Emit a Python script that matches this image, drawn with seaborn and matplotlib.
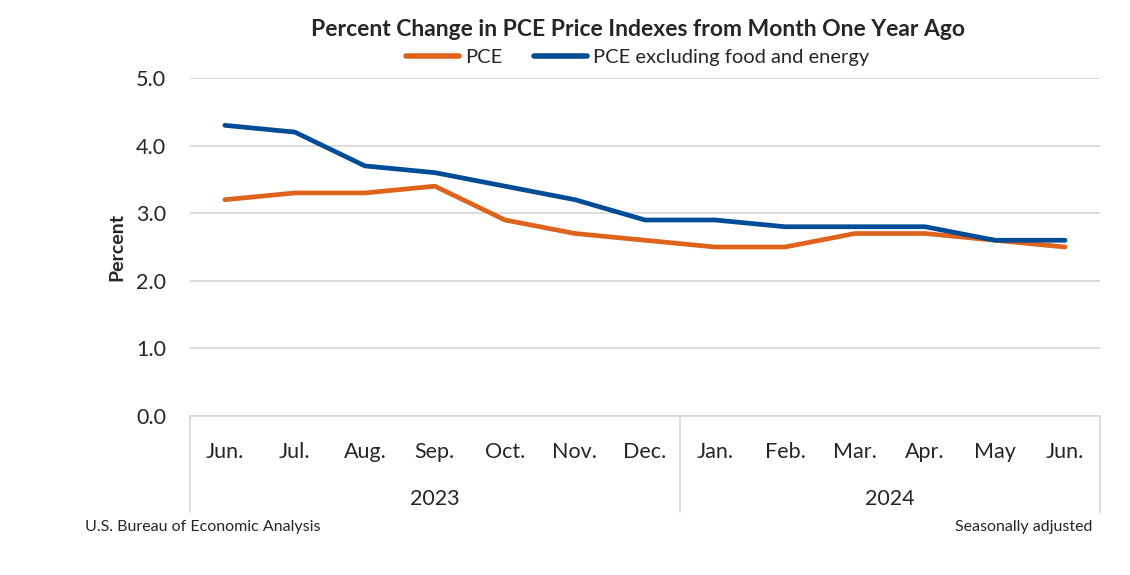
import matplotlib
matplotlib.use("Agg")
import matplotlib.pyplot as plt
import seaborn as sns
import pandas as pd
import numpy as np

months = ["Jun.", "Jul.", "Aug.", "Sep.", "Oct.", "Nov.", "Dec.",
          "Jan.", "Feb.", "Mar.", "Apr.", "May", "Jun."]
years = ["2023", "2024"]
year_counts = [7, 6]
pce = [3.2, 3.3, 3.3, 3.4, 2.9, 2.7, 2.6, 2.5, 2.5, 2.7, 2.7, 2.6, 2.5]
core = [4.3, 4.2, 3.7, 3.6, 3.4, 3.2, 2.9, 2.9, 2.8, 2.8, 2.8, 2.6, 2.6]
series_names = ["PCE", "PCE excluding food and energy"]
yticks = [0.0, 1.0, 2.0, 3.0, 4.0, 5.0]

sns.set_theme(style="white")
FONT = ["Lato", "DejaVu Sans"]
plt.rcParams["font.family"] = FONT

df = pd.DataFrame({
    "pos": list(range(len(months))) * 2,
    "value": pce + core,
    "series": [series_names[0]] * len(pce) + [series_names[1]] * len(core),
})

fig = plt.figure(figsize=(11.3, 5.75), dpi=100)
ax = fig.add_axes([0.168, 0.2765, 0.8055, 0.5878])

palette = {series_names[0]: "#DE631C", series_names[1]: "#004C97"}
sns.lineplot(data=df, x="pos", y="value", hue="series", hue_order=series_names,
             palette=palette, linewidth=3.4, ax=ax, legend=True,
             solid_capstyle="round", solid_joinstyle="round")

ax.set_xlim(-0.5, len(months) - 0.5)
ax.set_ylim(0, 5)
ax.set_yticks(yticks)
ax.set_yticklabels([f"{v:.1f}" for v in yticks], fontsize=15.5)
ax.yaxis.grid(True, color="#d9d9d9", linewidth=1.3)
ax.set_axisbelow(True)
for s in ["top", "right", "left"]:
    ax.spines[s].set_visible(False)
ax.spines["bottom"].set_color("#d9d9d9")
ax.spines["bottom"].set_linewidth(1.3)
ax.tick_params(axis="y", length=0, pad=17, labelsize=15.5)
ax.set_xticks(range(len(months)))
ax.set_xticklabels(months, fontsize=15.5)
ax.tick_params(axis="x", length=0, pad=19)
ax.set_xlabel("")
ax.set_ylabel("Percent", fontsize=14, fontweight="bold", labelpad=8)

# Year group labels and separators
trans = ax.get_xaxis_transform()
bounds = np.cumsum([0] + year_counts) - 0.5
for b in bounds:
    ax.plot([b, b], [0, -0.285], transform=trans, color="#d9d9d9",
            linewidth=1.3, clip_on=False)
for i, y in enumerate(years):
    c = (bounds[i] + bounds[i + 1]) / 2
    ax.text(c, -0.245, y, transform=trans, ha="center", va="center", fontsize=15.5)

leg = ax.legend(loc="lower center", bbox_to_anchor=(0.492, 0.982), ncol=2,
                frameon=False, fontsize=14.5, handlelength=2.6, columnspacing=1.6,
                handletextpad=0.3)
for line in leg.get_lines():
    line.set_linewidth(4)

fig.text(0.565, 0.948, "Percent Change in PCE Price Indexes from Month One Year Ago",
         ha="center", va="center", fontsize=16.5, fontweight="bold")
fig.text(0.075, 0.083, "U.S. Bureau of Economic Analysis", ha="left", va="center", fontsize=11.5)
fig.text(0.967, 0.083, "Seasonally adjusted", ha="right", va="center", fontsize=11.5)

fig.savefig("out.png", dpi=100)
